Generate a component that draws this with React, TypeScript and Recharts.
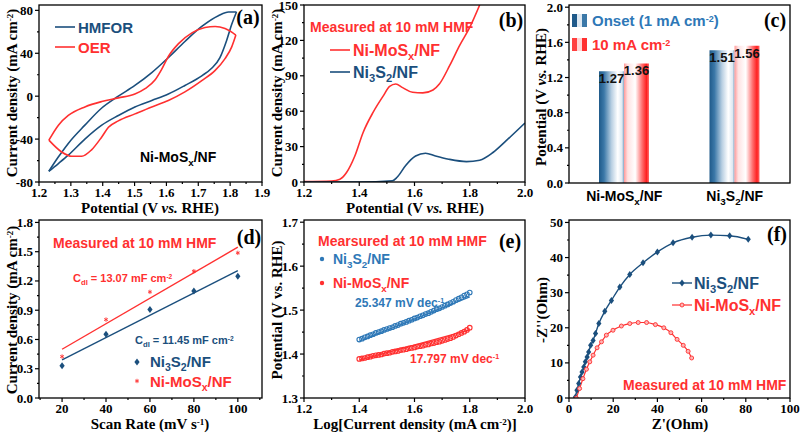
import { LineChart, Line, XAxis, YAxis, BarChart, Bar, LabelList, ComposedChart, Scatter } from "recharts";

const SERIF = "'Liberation Serif', 'Times New Roman', serif";
const SANS = "'Liberation Sans', Arial, sans-serif";
const BLUE = "#1b4f7d";
const LBLUE = "#2e78b7";
const RED = "#ff3030";

// (a) CV loops, forward and reverse branches (V, mA cm-2)
const hmforFwdV = [1.231, 1.26, 1.292, 1.344, 1.397, 1.449, 1.501, 1.554, 1.606, 1.658, 1.711, 1.763, 1.795, 1.82];
const hmforFwdJ = [-70, -57, -44, -27, -11, 0, 10, 22, 36, 51, 65, 75, 78.5, 78.5];
const hmforRevV = [1.231, 1.26, 1.292, 1.344, 1.397, 1.449, 1.501, 1.554, 1.606, 1.658, 1.711, 1.742, 1.768, 1.789, 1.805, 1.82];
const hmforRevJ = [-70, -63, -55, -40, -27, -18, -10, -4, 2, 10, 19, 26, 36, 52, 67, 78.5];
const oerFwdV = [1.231, 1.261, 1.292, 1.344, 1.397, 1.449, 1.501, 1.533, 1.564, 1.585, 1.606, 1.638, 1.68, 1.721, 1.753, 1.784, 1.818];
const oerFwdJ = [-41, -27, -18, -10, -5, -1.6, 2, 7, 15, 25, 37, 49, 59, 64, 65, 63, 57];
const oerRevV = [1.231, 1.271, 1.303, 1.334, 1.365, 1.397, 1.418, 1.449, 1.501, 1.554, 1.606, 1.658, 1.711, 1.753, 1.784, 1.805, 1.818];
const oerRevJ = [-41, -52, -56, -56, -50, -38, -29, -23, -16.5, -10, -4, 4, 14.5, 24, 35, 46, 57];

// (b) LSV
const niMoLsvV = [1.2, 1.3, 1.33, 1.354, 1.384, 1.414, 1.45, 1.487, 1.51, 1.532, 1.557, 1.593, 1.63, 1.667, 1.69, 1.728, 1.764, 1.8, 1.836];
const niMoLsvJ = [0.3, 0.8, 2.3, 8, 22, 42, 59, 73, 81, 83, 80, 76, 75.5, 78, 83, 99, 116, 131, 150];
const ni3LsvV = [1.2, 1.4, 1.52, 1.537, 1.568, 1.604, 1.64, 1.676, 1.724, 1.788, 1.836, 1.884, 1.932, 2.0];
const ni3LsvJ = [0, 0, 1, 4, 14, 22, 24.4, 22, 19.3, 17.3, 18.5, 25, 35, 50];

// (c) potentials
const catalysts = ["Ni-MoS_{x}/NF", "Ni_{3}S_{2}/NF"];
const onsetPot = [1.27, 1.51];
const tenPot = [1.36, 1.56];

// (d) Cdl
const scanRate = [20, 40, 60, 80, 100];
const ni3Cdl = [0.33, 0.654, 0.907, 1.098, 1.249];
const niMoCdl = [0.425, 0.804, 1.088, 1.3, 1.488];
const fitRate = [20, 100];
const ni3CdlFit = [0.39, 1.306];
const niMoCdlFit = [0.5, 1.546];

// (e) Tafel
const tafelLogJ = [1.4, 1.41, 1.42, 1.43, 1.44, 1.45, 1.46, 1.47, 1.48, 1.49, 1.5, 1.51, 1.52, 1.53, 1.54, 1.55, 1.56, 1.57, 1.58, 1.59, 1.6, 1.61, 1.62, 1.63, 1.64, 1.65, 1.66, 1.67, 1.68, 1.69, 1.7, 1.71, 1.72, 1.73, 1.74, 1.75, 1.76, 1.77, 1.78, 1.79, 1.8];
const ni3Tafel = [1.433, 1.435, 1.438, 1.44, 1.443, 1.445, 1.448, 1.45, 1.452, 1.455, 1.457, 1.459, 1.461, 1.464, 1.466, 1.469, 1.471, 1.473, 1.476, 1.478, 1.481, 1.483, 1.486, 1.488, 1.491, 1.493, 1.496, 1.499, 1.502, 1.504, 1.507, 1.51, 1.513, 1.516, 1.519, 1.523, 1.526, 1.529, 1.533, 1.536, 1.54];
const niMoTafel = [1.389, 1.39, 1.391, 1.393, 1.394, 1.396, 1.397, 1.398, 1.399, 1.401, 1.402, 1.403, 1.405, 1.406, 1.407, 1.409, 1.41, 1.411, 1.413, 1.414, 1.415, 1.417, 1.418, 1.419, 1.421, 1.422, 1.424, 1.425, 1.427, 1.428, 1.43, 1.432, 1.434, 1.436, 1.439, 1.442, 1.445, 1.448, 1.451, 1.455, 1.46];
const tafelFitX = [1.4, 1.8];
const ni3TafelFit = [1.429, 1.53];
const niMoTafelFit = [1.386, 1.455];

// (f) Nyquist
const ni3ZRe = [2.9, 3.6, 4.4, 5.2, 5.9, 6.7, 7.4, 8.2, 8.9, 9.8, 10.9, 12.0, 13.5, 16.2, 19.2, 23.0, 27.5, 33.5, 40.0, 47.1, 55.7, 64.2, 72.7, 81.1];
const ni3ZIm = [0.3, 2.2, 4.1, 6.0, 7.4, 8.8, 10.3, 11.7, 13.1, 15.0, 16.4, 18.4, 21.2, 24.7, 27.8, 31.6, 35.2, 38.5, 41.6, 44.2, 45.8, 46.4, 46.2, 45.2];
const niMoZRe = [3.3, 4.8, 6.3, 7.9, 9.4, 10.9, 12.7, 14.7, 16.9, 19.9, 23.7, 27.5, 31.3, 35.1, 39.1, 42.9, 46.1, 48.9, 51.7, 53.9, 55.5];
const niMoZIm = [0, 2.7, 5.5, 8.2, 10.3, 12.2, 14.3, 16.0, 17.9, 19.3, 20.5, 21.2, 21.5, 21.5, 20.9, 20.0, 18.6, 16.7, 15.0, 13.3, 11.4];

const zip = (xs: number[], ys: number[]) => xs.map((x, i) => ({ x, y: ys[i] }));

type Box = { l: number; t: number; r: number; b: number };
const PA: Box = { l: 39, t: 5, r: 262, b: 182 };
const PB: Box = { l: 304, t: 5, r: 525, b: 182 };
const PC: Box = { l: 569, t: 5, r: 790, b: 183 };
const PD: Box = { l: 39, t: 220, r: 262, b: 398 };
const PE: Box = { l: 304, t: 220, r: 525, b: 398 };
const PF: Box = { l: 569, t: 220, r: 790, b: 398 };

const YW = 40, XH = 30, MT = 10, MR = 15;
const margin = { top: MT, right: MR, bottom: 0, left: 0 };
const place = (p: Box): React.CSSProperties => ({ position: "absolute", left: p.l - YW, top: p.t - MT });
const cw = (p: Box) => p.r - p.l + YW + MR;
const ch = (p: Box) => p.b - p.t + MT + XH;

// "a_{b}" = subscript, "a^{b}" = superscript, as tspans
const rich = (s: string, size: number) => {
  const re = /([_^])\{([^}]*)\}/g;
  const out: any[] = [];
  let last = 0, cur = 0, k = 0;
  let m: RegExpExecArray | null;
  const push = (text: string, off: number, fs?: number) => {
    if (!text) return;
    out.push(<tspan key={k++} dy={off - cur} fontSize={fs}>{text}</tspan>);
    cur = off;
  };
  while ((m = re.exec(s))) {
    push(s.slice(last, m.index), 0);
    if (m[1] === "_") push(m[2], size * 0.28, size * 0.7);
    else push(m[2], -size * 0.3, size * 0.6);
    last = re.lastIndex;
  }
  push(s.slice(last), 0);
  return out;
};

const isMajor = (majors: number[], v: number) => majors.some((m) => Math.abs(m - v) < 1e-6);

const xTick = (majors: number[], fmt: (v: number) => string) => (props: any) => {
  const { x, y, payload } = props;
  const major = isMajor(majors, payload.value);
  return (
    <g>
      <line x1={x} y1={y} x2={x} y2={y + (major ? 4 : 2)} stroke="#000" strokeWidth={1.2} />
      {major && (
        <text x={x} y={y + 15} textAnchor="middle" fontFamily={SERIF} fontWeight="bold" fontSize={13} fill="#000">
          {fmt(payload.value)}
        </text>
      )}
    </g>
  );
};

const yTick = (majors: number[], fmt: (v: number) => string) => (props: any) => {
  const { x, y, payload } = props;
  const major = isMajor(majors, payload.value);
  return (
    <g>
      <line x1={x} y1={y} x2={x - (major ? 4 : 2)} y2={y} stroke="#000" strokeWidth={1.2} />
      {major && (
        <text x={x - 6} y={y + 4.5} textAnchor="end" fontFamily={SERIF} fontWeight="bold" fontSize={13} fill="#000">
          {fmt(payload.value)}
        </text>
      )}
    </g>
  );
};

const axisCommon = { type: "number" as const, interval: 0 as const, tickSize: 0, tickMargin: 0, axisLine: false, tickLine: false, allowDataOverflow: true };

const f1 = (v: number) => v.toFixed(1);
const f0 = (v: number) => String(Math.round(v));

const catTick = (props: any) => {
  const { x, y, payload } = props;
  return (
    <text x={x} y={y + 18} textAnchor="middle" fontFamily={SANS} fontWeight="bold" fontSize={14} fill="#000">
      {rich(payload.value, 14)}
    </text>
  );
};

const barLabel = (props: any) => {
  const { x, y, width, value } = props;
  return (
    <text x={x + width / 2} y={y + 12} textAnchor="middle" fontFamily={SANS} fontWeight="bold" fontSize={13} fill="#111">
      {Number(value).toFixed(2)}
    </text>
  );
};

const diamond = (props: any) => {
  const { cx, cy } = props;
  if (cx == null || cy == null) return <g />;
  return <path d={`M${cx},${cy - 3.5} L${cx + 2.6},${cy} L${cx},${cy + 3.5} L${cx - 2.6},${cy} Z`} fill={BLUE} />;
};
const redRing = (props: any) => {
  const { cx, cy } = props;
  if (cx == null || cy == null) return <g />;
  return <circle cx={cx} cy={cy} r={2} fill="#ffb5b5" stroke={RED} strokeWidth={0.9} />;
};
const asterisk = (props: any) => {
  const { cx, cy } = props;
  return (
    <g stroke={RED} strokeWidth={0.9}>
      <line x1={cx} y1={cy - 2.2} x2={cx} y2={cy + 2.2} />
      <line x1={cx - 1.9} y1={cy - 1.1} x2={cx + 1.9} y2={cy + 1.1} />
      <line x1={cx - 1.9} y1={cy + 1.1} x2={cx + 1.9} y2={cy - 1.1} />
    </g>
  );
};
const dot = (color: string) => (props: any) => {
  const { cx, cy } = props;
  return <circle cx={cx} cy={cy} r={2.3} fill="none" stroke={color} strokeWidth={1.1} />;
};

const PanelA = () => {
  const xM = [1.2, 1.3, 1.4, 1.5, 1.6, 1.7, 1.8, 1.9];
  const yM = [-80, -40, 0, 40, 80];
  return (
    <div style={place(PA)}>
      <LineChart width={cw(PA)} height={ch(PA)} margin={margin}>
        <XAxis {...axisCommon} dataKey="x" domain={[1.2, 1.9]} ticks={[...xM, 1.25, 1.35, 1.45, 1.55, 1.65, 1.75, 1.85]} height={XH} tick={xTick(xM, f1)} />
        <YAxis {...axisCommon} dataKey="y" domain={[-80, 85]} ticks={[...yM, -60, -20, 20, 60]} width={YW} tick={yTick(yM, f0)} />
        <Line data={zip(hmforFwdV, hmforFwdJ)} dataKey="y" type="monotone" stroke={BLUE} strokeWidth={1.6} dot={false} isAnimationActive={false} />
        <Line data={zip(hmforRevV, hmforRevJ)} dataKey="y" type="monotone" stroke={BLUE} strokeWidth={1.6} dot={false} isAnimationActive={false} />
        <Line data={zip(oerFwdV, oerFwdJ)} dataKey="y" type="monotone" stroke={RED} strokeWidth={1.6} dot={false} isAnimationActive={false} />
        <Line data={zip(oerRevV, oerRevJ)} dataKey="y" type="monotone" stroke={RED} strokeWidth={1.6} dot={false} isAnimationActive={false} />
      </LineChart>
    </div>
  );
};

const PanelB = () => {
  const xM = [1.2, 1.4, 1.6, 1.8, 2.0];
  const yM = [0, 30, 60, 90, 120, 150];
  return (
    <div style={place(PB)}>
      <LineChart width={cw(PB)} height={ch(PB)} margin={margin}>
        <XAxis {...axisCommon} dataKey="x" domain={[1.2, 2.0]} ticks={[...xM, 1.3, 1.5, 1.7, 1.9]} height={XH} tick={xTick(xM, f1)} />
        <YAxis {...axisCommon} dataKey="y" domain={[0, 150]} ticks={[...yM, 15, 45, 75, 105, 135]} width={YW} tick={yTick(yM, f0)} />
        <Line data={zip(niMoLsvV, niMoLsvJ)} dataKey="y" type="monotone" stroke={RED} strokeWidth={1.6} dot={false} isAnimationActive={false} />
        <Line data={zip(ni3LsvV, ni3LsvJ)} dataKey="y" type="monotone" stroke={BLUE} strokeWidth={1.6} dot={false} isAnimationActive={false} />
      </LineChart>
    </div>
  );
};

const PanelC = () => {
  const yM = [0, 0.4, 0.8, 1.2, 1.6, 2.0];
  const data = catalysts.map((name, i) => ({ name, onset: onsetPot[i], ten: tenPot[i] }));
  return (
    <div style={place(PC)}>
      <BarChart width={cw(PC)} height={ch(PC)} margin={margin} data={data} barGap={0}>
        <defs>
          <linearGradient id="gBlue" x1="0" y1="0" x2="1" y2="0">
            <stop offset="0" stopColor="#1f5a8a" />
            <stop offset="0.2" stopColor="#3b78a8" />
            <stop offset="0.5" stopColor="#b8cfe2" />
            <stop offset="0.75" stopColor="#ffffff" />
            <stop offset="0.92" stopColor="#dfe9f2" />
            <stop offset="1" stopColor="#7ea6c6" />
          </linearGradient>
          <linearGradient id="gRed" x1="0" y1="0" x2="1" y2="0">
            <stop offset="0" stopColor="#ff9a9a" />
            <stop offset="0.15" stopColor="#ffe2e2" />
            <stop offset="0.45" stopColor="#ffffff" />
            <stop offset="0.72" stopColor="#ff7070" />
            <stop offset="0.9" stopColor="#ff2020" />
            <stop offset="1" stopColor="#ff6a6a" />
          </linearGradient>
        </defs>
        <XAxis dataKey="name" type="category" interval={0} tickSize={0} tickMargin={0} axisLine={false} tickLine={false} height={XH} tick={catTick} />
        <YAxis {...axisCommon} domain={[0, 2.025]} ticks={[...yM, 0.2, 0.6, 1.0, 1.4, 1.8]} width={YW} tick={yTick(yM, f1)} />
        <Bar dataKey="onset" barSize={25} fill="url(#gBlue)" isAnimationActive={false}>
          <LabelList dataKey="onset" content={barLabel} />
        </Bar>
        <Bar dataKey="ten" barSize={25} fill="url(#gRed)" isAnimationActive={false}>
          <LabelList dataKey="ten" content={barLabel} />
        </Bar>
      </BarChart>
    </div>
  );
};

const PanelD = () => {
  const xM = [20, 40, 60, 80, 100];
  const yM = [0, 0.3, 0.6, 0.9, 1.2, 1.5, 1.8];
  return (
    <div style={place(PD)}>
      <ComposedChart width={cw(PD)} height={ch(PD)} margin={margin}>
        <XAxis {...axisCommon} dataKey="x" domain={[9.5, 111]} ticks={[...xM, 10, 30, 50, 70, 90, 110]} height={XH} tick={xTick(xM, f0)} />
        <YAxis {...axisCommon} dataKey="y" domain={[0, 1.825]} ticks={[...yM, 0.15, 0.45, 0.75, 1.05, 1.35, 1.65]} width={YW} tick={yTick(yM, f1)} />
        <Line data={zip(fitRate, niMoCdlFit)} dataKey="y" type="linear" stroke={RED} strokeWidth={1.4} dot={false} isAnimationActive={false} />
        <Line data={zip(fitRate, ni3CdlFit)} dataKey="y" type="linear" stroke={BLUE} strokeWidth={1.4} dot={false} isAnimationActive={false} />
        <Scatter data={zip(scanRate, ni3Cdl)} dataKey="y" shape={diamond} isAnimationActive={false} />
        <Scatter data={zip(scanRate, niMoCdl)} dataKey="y" shape={asterisk} isAnimationActive={false} />
      </ComposedChart>
    </div>
  );
};

const PanelE = () => {
  const xM = [1.2, 1.4, 1.6, 1.8, 2.0];
  const yM = [1.3, 1.4, 1.5, 1.6, 1.7];
  return (
    <div style={place(PE)}>
      <ComposedChart width={cw(PE)} height={ch(PE)} margin={margin}>
        <XAxis {...axisCommon} dataKey="x" domain={[1.2, 2.0]} ticks={[...xM, 1.3, 1.5, 1.7, 1.9]} height={XH} tick={xTick(xM, f1)} />
        <YAxis {...axisCommon} dataKey="y" domain={[1.3, 1.705]} ticks={[...yM, 1.35, 1.45, 1.55, 1.65]} width={YW} tick={yTick(yM, f1)} />
        <Scatter data={zip(tafelLogJ, ni3Tafel)} dataKey="y" shape={dot(LBLUE)} isAnimationActive={false} />
        <Scatter data={zip(tafelLogJ, niMoTafel)} dataKey="y" shape={dot(RED)} isAnimationActive={false} />
        <Line data={zip(tafelFitX, ni3TafelFit)} dataKey="y" type="linear" stroke={LBLUE} strokeWidth={1.2} dot={false} isAnimationActive={false} />
        <Line data={zip(tafelFitX, niMoTafelFit)} dataKey="y" type="linear" stroke={RED} strokeWidth={1.2} dot={false} isAnimationActive={false} />
      </ComposedChart>
    </div>
  );
};

const PanelF = () => {
  const xM = [0, 20, 40, 60, 80, 100];
  const yM = [0, 10, 20, 30, 40, 50];
  return (
    <div style={place(PF)}>
      <LineChart width={cw(PF)} height={ch(PF)} margin={margin}>
        <XAxis {...axisCommon} dataKey="x" domain={[0, 100]} ticks={[...xM, 10, 30, 50, 70, 90]} height={XH} tick={xTick(xM, f0)} />
        <YAxis {...axisCommon} dataKey="y" domain={[0, 50.7]} ticks={[...yM, 5, 15, 25, 35, 45]} width={YW} tick={yTick(yM, f0)} />
        <Line data={zip(ni3ZRe, ni3ZIm)} dataKey="y" type="monotone" stroke={BLUE} strokeWidth={1.4} dot={diamond} isAnimationActive={false} />
        <Line data={zip(niMoZRe, niMoZIm)} dataKey="y" type="monotone" stroke={RED} strokeWidth={1.2} dot={redRing} isAnimationActive={false} />
      </LineChart>
    </div>
  );
};

const frame = (p: Box, k: string) => (
  <rect key={k} x={p.l} y={p.t} width={p.r - p.l} height={p.b - p.t} fill="none" stroke="#000" strokeWidth={1.3} />
);

const serifTitle = { fontFamily: SERIF, fontWeight: "bold" as const, fontSize: 15, fill: "#000" };
const sans = (size: number, fill: string) => ({ fontFamily: SANS, fontWeight: "bold" as const, fontSize: size, fill });
const panelTag = { textAnchor: "middle" as const, fontFamily: SERIF, fontWeight: "bold" as const, fontSize: 20, fill: "#000" };

const curDen = "Current density (mA cm^{-2})";
const PotVs = ({ italic }: { italic: boolean }) => (
  <>
    <tspan>Potential (V </tspan>
    <tspan fontStyle={italic ? "italic" : "normal"}>vs.</tspan>
    <tspan> RHE)</tspan>
  </>
);

const Overlay = () => (
  <svg width={800} height={437} style={{ position: "absolute", left: 0, top: 0, pointerEvents: "none" }}>
    {[frame(PA, "a"), frame(PB, "b"), frame(PC, "c"), frame(PD, "d"), frame(PE, "e"), frame(PF, "f")]}

    {/* (a) */}
    <text transform="translate(17,93) rotate(-90)" textAnchor="middle" {...serifTitle}>{rich(curDen, 15)}</text>
    <text x={150} y={213} textAnchor="middle" {...serifTitle}><PotVs italic /></text>
    <line x1={55} y1={27} x2={75} y2={27} stroke={BLUE} strokeWidth={1.6} />
    <text x={78} y={32.5} {...sans(15, BLUE)}>HMFOR</text>
    <line x1={55} y1={47} x2={75} y2={47} stroke={RED} strokeWidth={1.6} />
    <text x={78} y={52.5} {...sans(15, RED)}>OER</text>
    <text x={140} y={162} {...sans(14, "#000")}>{rich("Ni-MoS_{x}/NF", 14)}</text>
    <text x={248} y={24} {...panelTag}>(a)</text>

    {/* (b) */}
    <text transform="translate(282,93) rotate(-90)" textAnchor="middle" {...serifTitle}>{rich(curDen, 15)}</text>
    <text x={415} y={213} textAnchor="middle" {...serifTitle}><PotVs italic /></text>
    <text x={310} y={32} {...sans(14, RED)}>Measured at 10 mM HMF</text>
    <line x1={330} y1={50} x2={350} y2={50} stroke={RED} strokeWidth={1.6} />
    <text x={353} y={56} {...sans(16, RED)}>{rich("Ni-MoS_{x}/NF", 16)}</text>
    <line x1={330} y1={72} x2={350} y2={72} stroke={BLUE} strokeWidth={1.6} />
    <text x={353} y={78} {...sans(16, BLUE)}>{rich("Ni_{3}S_{2}/NF", 16)}</text>
    <text x={511} y={27} {...panelTag}>(b)</text>

    {/* (c) */}
    <text transform="translate(546,97) rotate(-90)" textAnchor="middle" {...serifTitle}><PotVs italic /></text>
    <rect x={572} y={14} width={5} height={13} fill="#1f5a8a" />
    <rect x={577} y={14} width={5} height={13} fill="#dfe9f2" />
    <rect x={582} y={14} width={5} height={13} fill="#3b78a8" />
    <text x={592} y={26} {...sans(15, LBLUE)}>{rich("Onset (1 mA cm^{-2})", 15)}</text>
    <rect x={572} y={38} width={5} height={13} fill="#ff4040" />
    <rect x={577} y={38} width={5} height={13} fill="#ffd6d6" />
    <rect x={582} y={38} width={5} height={13} fill="#ff3030" />
    <text x={592} y={50} {...sans(15, RED)}>{rich("10 mA cm^{-2}", 15)}</text>
    <text x={775} y={27} {...panelTag}>(c)</text>

    {/* (d) */}
    <text transform="translate(17,310) rotate(-90)" textAnchor="middle" {...serifTitle}>{rich(curDen, 15)}</text>
    <text x={150} y={429} textAnchor="middle" {...serifTitle}>{rich("Scan Rate (mV s^{-1})", 15)}</text>
    <text x={53} y={248} {...sans(14, RED)}>Measured at 10 mM HMF</text>
    <text x={73} y={282} {...sans(11, RED)}>{rich("C_{dl} = 13.07 mF cm^{-2}", 11)}</text>
    <text x={135} y={344} {...sans(11, BLUE)}>{rich("C_{dl} = 11.45 mF cm^{-2}", 11)}</text>
    {diamond({ cx: 137, cy: 362 })}
    <text x={150} y={367} {...sans(15, BLUE)}>{rich("Ni_{3}S_{2}/NF", 15)}</text>
    {asterisk({ cx: 137, cy: 381 })}
    <text x={150} y={387} {...sans(15, RED)}>{rich("Ni-MoS_{x}/NF", 15)}</text>
    <text x={249} y={244} {...panelTag}>(d)</text>

    {/* (e) */}
    <text transform="translate(282,310) rotate(-90)" textAnchor="middle" {...serifTitle}><PotVs italic={false} /></text>
    <text x={415} y={429} textAnchor="middle" {...serifTitle}>{rich("Log[Current density (mA cm^{-2})]", 15)}</text>
    <text x={318} y={246} {...sans(14, RED)}>Mearsured at 10 mM HMF</text>
    <circle cx={322} cy={259} r={2.2} fill={LBLUE} />
    <text x={333} y={264} {...sans(14, LBLUE)}>{rich("Ni_{3}S_{2}/NF", 14)}</text>
    <circle cx={322} cy={283} r={2.2} fill={RED} />
    <text x={333} y={288} {...sans(14, RED)}>{rich("Ni-MoS_{x}/NF", 14)}</text>
    <text x={355} y={307} {...sans(12, LBLUE)}>{rich("25.347 mV dec^{-1}", 12)}</text>
    <text x={410} y={363} {...sans(12, RED)}>{rich("17.797 mV dec^{-1}", 12)}</text>
    <text x={510} y={248} {...panelTag}>(e)</text>

    {/* (f) */}
    <text transform="translate(547,310) rotate(-90)" textAnchor="middle" {...serifTitle}>-Z''(Ohm)</text>
    <text x={680} y={429} textAnchor="middle" {...serifTitle}>Z'(Ohm)</text>
    <line x1={672} y1={283} x2={692} y2={283} stroke={BLUE} strokeWidth={1.4} />
    {diamond({ cx: 682, cy: 283 })}
    <text x={694} y={289} {...sans(16, BLUE)}>{rich("Ni_{3}S_{2}/NF", 16)}</text>
    <line x1={672} y1={305} x2={692} y2={305} stroke={RED} strokeWidth={1.2} />
    {redRing({ cx: 682, cy: 305 })}
    <text x={694} y={311} {...sans(16, RED)}>{rich("Ni-MoS_{x}/NF", 16)}</text>
    <text x={623} y={390} {...sans(14, RED)}>Measured at 10 mM HMF</text>
    <text x={777} y={241} {...panelTag}>(f)</text>
  </svg>
);

export default function App() {
  return (
    <div style={{ position: "absolute", left: 0, top: 0, width: 800, height: 437, background: "#fff", overflow: "hidden" }}>
      <PanelA />
      <PanelB />
      <PanelC />
      <PanelD />
      <PanelE />
      <PanelF />
      <Overlay />
    </div>
  );
}
